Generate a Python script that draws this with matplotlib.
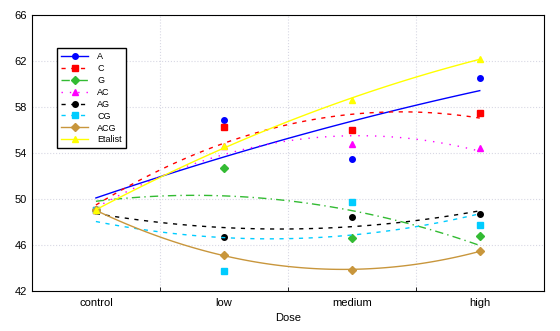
import matplotlib
matplotlib.use("Agg")
import matplotlib.pyplot as plt
import numpy as np

plt.rcParams['font.family'] = ['Liberation Sans', 'DejaVu Sans']

doses = ['control', 'low', 'medium', 'high']

A = [49.0, 56.9, 53.5, 60.5]
C = [49.0, 56.25, 55.95, 57.5]
G = [49.0, 52.65, 46.6, 46.75]
AC = [49.0, 54.6, 54.75, 54.4]
AG = [49.0, 46.7, 48.4, 48.7]
CG = [49.0, 43.75, 49.75, 47.75]
ACG = [49.0, 45.1, 43.85, 45.45]
Etalist = [49.0, 54.6, 58.6, 62.2]

names = ['A', 'C', 'G', 'AC', 'AG', 'CG', 'ACG', 'Etalist']
series = [A, C, G, AC, AG, CG, ACG, Etalist]
colors = ['#0000ff', '#ff0000', '#33bb33', '#ff00ff', '#000000', '#00ccff', '#c8963c', '#ffff00']
markers = ['o', 's', 'D', '^', 'o', 's', 'D', '^']
styles = ['-', (0, (3, 4)), (0, (6, 3, 1, 3)), (0, (1, 5)), (0, (3, 4)), (0, (3, 4)), '-', '-']

fig = plt.figure(figsize=(5.6, 3.31), dpi=100)
ax = fig.add_axes([0.057, 0.121, 0.914, 0.834])

x = np.arange(len(doses))
xs = np.linspace(0, 3, 100)
handles = []
for name, ys, col, mk, ls in zip(names, series, colors, markers, styles):
    # quadratic fit curve through the points
    p = np.polyfit(x, ys, 2)
    ax.plot(xs, np.polyval(p, xs), color=col, linestyle=ls, linewidth=1.0)
    ax.plot(x, ys, linestyle='none', marker=mk, color=col, markersize=4)
    h, = ax.plot([], [], color=col, linestyle=ls, marker=mk, markersize=4, linewidth=1.0, label=name)
    handles.append(h)

ax.set_xlim(-0.5, 3.5)
ax.set_ylim(42, 66)
ax.set_yticks(range(42, 67, 4))
ax.set_xticks(x)
ax.set_xticklabels(doses)
ax.set_xticks([0.5, 1.5, 2.5], minor=True)
ax.tick_params(axis='x', which='major', length=0, labelsize=8, pad=5)
ax.tick_params(axis='x', which='minor', length=3, direction='in')
ax.tick_params(axis='y', length=0, labelsize=8)
ax.xaxis.grid(True, which='minor', color='#d8d8e4', linestyle=':', linewidth=0.8)
ax.yaxis.grid(True, which='major', color='#d8d8e4', linestyle=':', linewidth=0.8)
ax.set_axisbelow(True)
ax.set_xlabel('Dose', fontsize=8)

leg = ax.legend(handles=handles, loc='upper left', bbox_to_anchor=(0.04, 0.896),
                fontsize=6.5, fancybox=False, edgecolor='black', framealpha=1,
                handlelength=3.0, handletextpad=1.0, labelspacing=0.32, borderpad=0.45)
leg.get_frame().set_linewidth(1.0)

fig.savefig('out.png', dpi=100)
